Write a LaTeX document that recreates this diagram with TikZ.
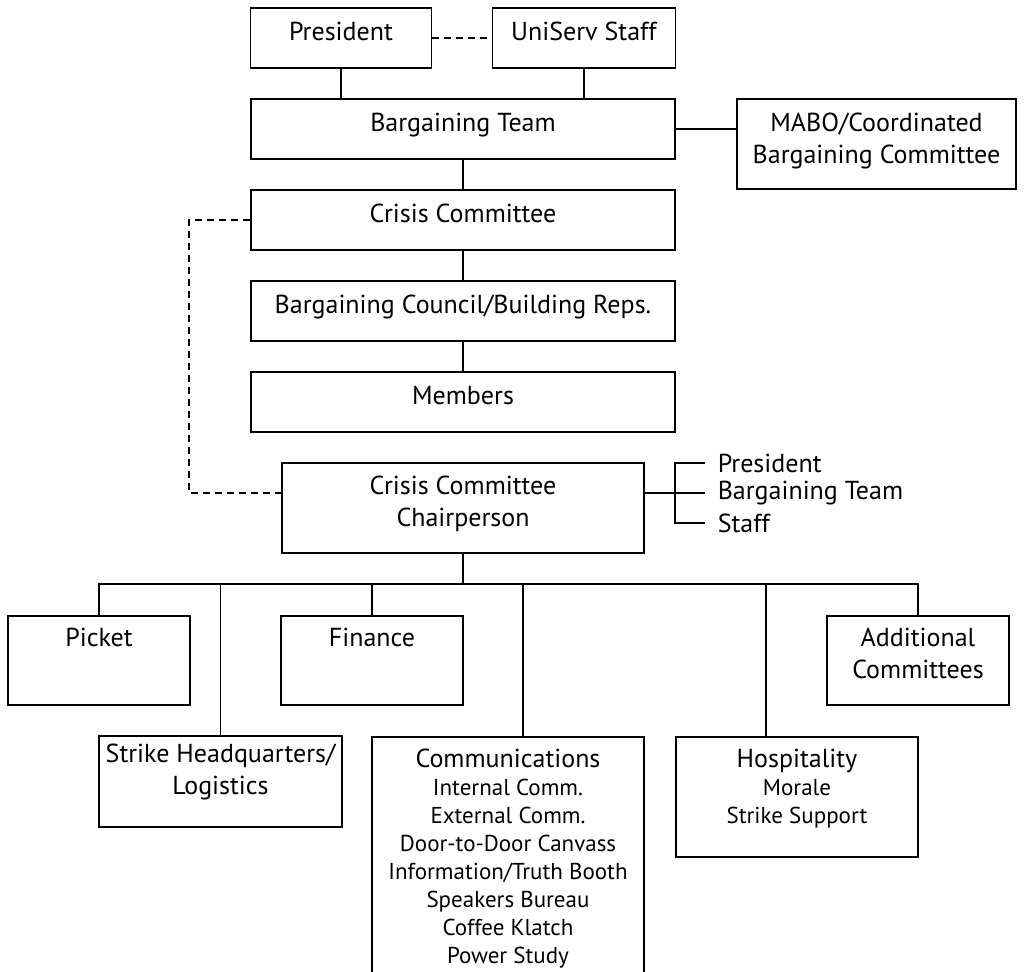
\documentclass[tikz,border=0pt]{standalone}
\usepackage{fontspec}
\setmainfont{PT Sans}
\usetikzlibrary{calc}
\newcommand{\mainsize}{\fontsize{26}{32}\selectfont}
\newcommand{\subsize}{\fontsize{23}{28}\selectfont}

\begin{document}
\begin{tikzpicture}[x=1pt,y=-1pt, line width=1.6pt,
    box/.style={draw, inner sep=0pt},
    lbl/.style={anchor=north, inner sep=0pt, align=center, font=\mainsize},
    side/.style={anchor=west, inner xsep=12pt, inner ysep=0pt, font=\mainsize},
    dashlink/.style={dash pattern=on 7pt off 5pt}]
\useasboundingbox (0,0) rectangle (1031,972);

% top of the chart
\node[box, minimum width=181pt, minimum height=60pt] (pres) at (341,38) {};
\node[box, minimum width=183pt, minimum height=60pt] (uniserv) at (584,38) {};
\node[box, minimum width=424pt, minimum height=60pt] (team) at (463,129) {};
\node[box, minimum width=279pt, minimum height=90pt] (mabo) at (876.5,144) {};
\node[box, minimum width=424pt, minimum height=60pt] (crisis) at (463,220) {};
\node[box, minimum width=424pt, minimum height=60pt] (council) at (463,311) {};
\node[box, minimum width=424pt, minimum height=60pt] (members) at (463,402) {};
\node[box, minimum width=362pt, minimum height=90pt] (chair) at (463,508) {};

\node[lbl] (presT) at ([yshift=-14pt]pres.north) {President};
\node[lbl] (uniservT) at ([yshift=-14pt]uniserv.north) {UniServ Staff};
\node[lbl] (teamT) at ([yshift=-14pt]team.north) {Bargaining Team};
\node[lbl] (maboT) at ([yshift=-14pt]mabo.north) {MABO/Coordinated\\Bargaining Committee};
\node[lbl] (crisisT) at ([yshift=-14pt]crisis.north) {Crisis Committee};
\node[lbl] (councilT) at ([yshift=-14pt]council.north) {Bargaining Council/Building Reps.};
\node[lbl] (membersT) at ([yshift=-14pt]members.north) {Members};
\node[lbl] (chairT) at ([yshift=-13pt]chair.north) {Crisis Committee\\Chairperson};

% committees
\node[box, minimum width=182pt, minimum height=89pt] (picket) at (99,660.5) {};
\node[box, minimum width=182pt, minimum height=89pt] (finance) at (372,660.5) {};
\node[box, minimum width=182pt, minimum height=89pt] (addl) at (918,660.5) {};
\node[box, minimum width=243pt, minimum height=91pt] (strike) at (220.5,781.5) {};
\node[box, minimum width=272pt, minimum height=263pt] (comm) at (508,868.5) {};
\node[box, minimum width=242pt, minimum height=120pt] (hosp) at (797,797) {};

\node[lbl] (picketT) at ([yshift=-12pt]picket.north) {Picket};
\node[lbl] (financeT) at ([yshift=-12pt]finance.north) {Finance};
\node[lbl] (addlT) at ([yshift=-12pt]addl.north) {Additional\\Committees};
\node[lbl] (strikeT) at ([yshift=-8pt]strike.north) {Strike Headquarters/\\Logistics};
\node[lbl, font=\subsize] (commT) at ([yshift=-12pt]comm.north)
  {{\mainsize Communications}\\Internal Comm.\\External Comm.\\Door-to-Door Canvass\\
   Information/Truth Booth\\Speakers Bureau\\Coffee Klatch\\Power Study};
\node[lbl, font=\subsize] (hospT) at ([yshift=-12pt]hosp.north)
  {{\mainsize Hospitality}\\Morale\\Strike Support};

% side list of the chairperson
\node[side] (rP) at (705,463) {President};
\node[side] (rT) at (705,493) {Bargaining Team};
\node[side] (rS) at (705,523) {Staff};
\coordinate (brk) at (675,493);

% connectors
\draw[dashlink] (pres.east) -- (uniserv.west);
\draw (pres.south) -- (pres.south |- team.north);
\draw (uniserv.south) -- (uniserv.south |- team.north);
\draw (team.east) -- (team.east -| mabo.west);
\draw (team) -- (crisis);
\draw (crisis) -- (council);
\draw (council) -- (members);
\coordinate (dl) at (189,220);
\draw[dashlink, line width=2pt] (crisis.west) -- (dl) |- ([yshift=15pt]chair.west);
\draw ([yshift=15pt]chair.east) -- (rT.west |- brk);
\draw (rP.west) -| (brk) |- (rS.west);

\coordinate (busL) at (99,584);
\coordinate (busR) at (918,584);
\draw (chair.south) -- (chair.south |- busL);
\draw (picket.north) |- (busR) -- (addl.north);
\draw (strike.north) -- (strike.north |- busL);
\draw (finance.north) -- (finance.north |- busL);
\draw ([xshift=15pt]comm.north) -- ([xshift=15pt]comm.north |- busL);
\draw ([xshift=-31pt]hosp.north) -- ([xshift=-31pt]hosp.north |- busL);
\end{tikzpicture}
\end{document}
